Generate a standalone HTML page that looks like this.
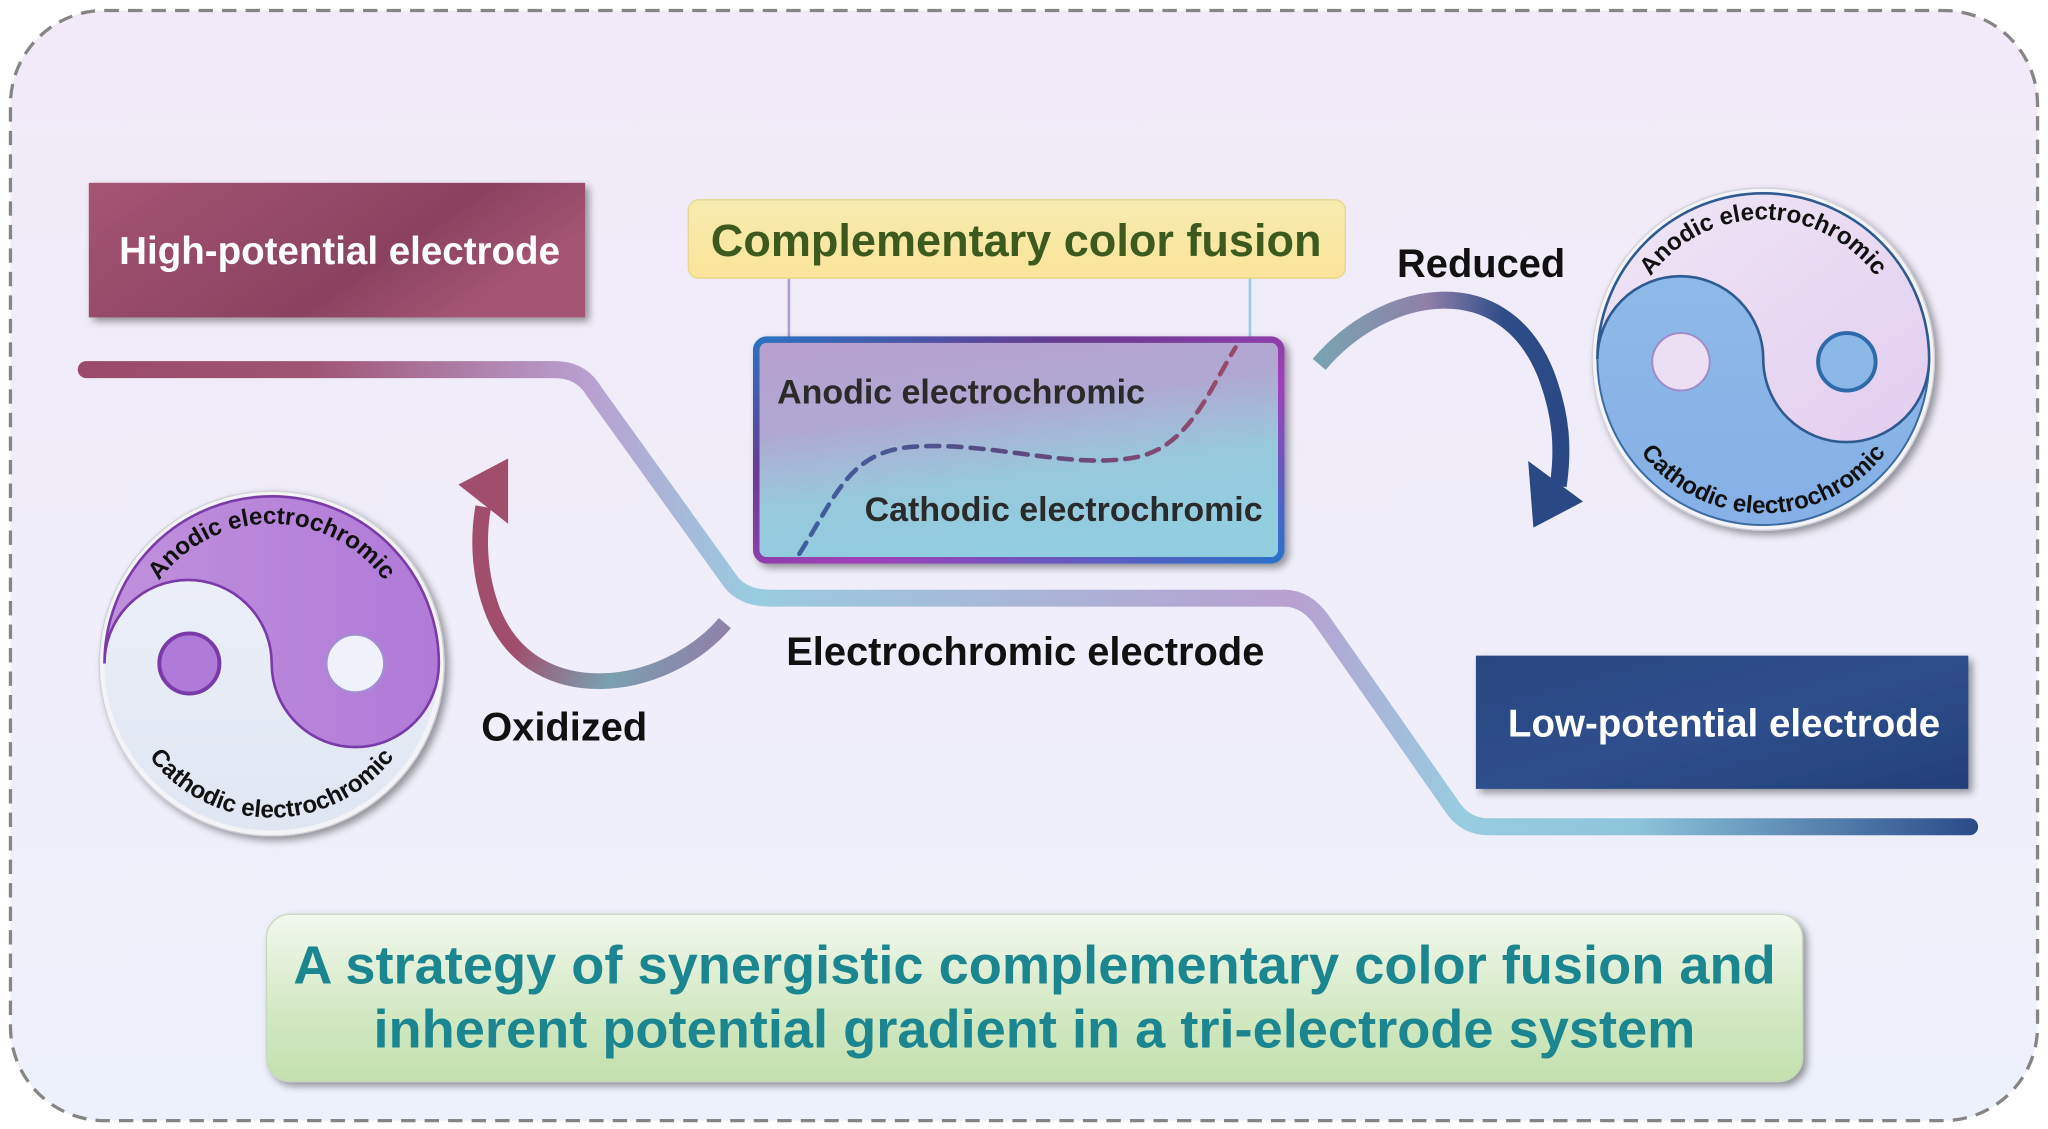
<!DOCTYPE html>
<html><head><meta charset="utf-8"><style>
html,body{margin:0;padding:0;background:#fff;}
svg{display:block;}
text{font-family:"Liberation Sans",Arial,sans-serif;font-weight:bold;}
</style></head><body>
<svg width="2048" height="1129" viewBox="0 0 1568 864.4" preserveAspectRatio="none" xmlns="http://www.w3.org/2000/svg">
<defs>
<linearGradient id="bg" x1="0" y1="0" x2="0" y2="1"><stop offset="0" stop-color="#f2eaf8"/><stop offset="1" stop-color="#edf1fb"/></linearGradient>
<linearGradient id="hp" x1="0" y1="0" x2="1" y2="0.4"><stop offset="0" stop-color="#a55573"/><stop offset="0.7" stop-color="#8a4260"/><stop offset="1" stop-color="#a55573"/></linearGradient>
<linearGradient id="lp" x1="0" y1="0" x2="1" y2="1"><stop offset="0" stop-color="#284680"/><stop offset="0.5" stop-color="#2f4f8c"/><stop offset="1" stop-color="#233f78"/></linearGradient>
<linearGradient id="w1" x1="60" y1="0" x2="580" y2="0" gradientUnits="userSpaceOnUse"><stop offset="0" stop-color="#9a4a6a"/><stop offset="0.35" stop-color="#a05575"/><stop offset="0.75" stop-color="#b9a0d0"/><stop offset="1" stop-color="#98cde0"/></linearGradient>
<linearGradient id="w2" x1="560" y1="0" x2="990" y2="0" gradientUnits="userSpaceOnUse"><stop offset="0" stop-color="#98cde0"/><stop offset="1" stop-color="#b8a0d0"/></linearGradient>
<linearGradient id="w3" x1="990" y1="0" x2="1515" y2="0" gradientUnits="userSpaceOnUse"><stop offset="0" stop-color="#b8a0d0"/><stop offset="0.25" stop-color="#98cde0"/><stop offset="0.5" stop-color="#8cc4da"/><stop offset="1" stop-color="#2a4a88"/></linearGradient>
<linearGradient id="yel" x1="0" y1="0" x2="0" y2="1"><stop offset="0" stop-color="#f6ebb0"/><stop offset="1" stop-color="#fbe49a"/></linearGradient>
<linearGradient id="cb" x1="0" y1="0" x2="0.3" y2="1"><stop offset="0" stop-color="#b9a0d0"/><stop offset="0.4" stop-color="#b0a8d2"/><stop offset="0.7" stop-color="#98c8dc"/><stop offset="1" stop-color="#92cde0"/></linearGradient>
<linearGradient id="cbb" x1="0" y1="0" x2="1" y2="1"><stop offset="0" stop-color="#2a72c0"/><stop offset="0.3" stop-color="#6a3a90"/><stop offset="0.6" stop-color="#a040b8"/><stop offset="1" stop-color="#2a72c8"/></linearGradient>
<linearGradient id="dash" x1="610" y1="0" x2="950" y2="0" gradientUnits="userSpaceOnUse"><stop offset="0" stop-color="#3e5ea0"/><stop offset="0.5" stop-color="#5a4a80"/><stop offset="1" stop-color="#9a4a6a"/></linearGradient>
<linearGradient id="grn" x1="0" y1="0" x2="0" y2="1"><stop offset="0" stop-color="#f2f8ee"/><stop offset="0.6" stop-color="#d2e8c2"/><stop offset="1" stop-color="#c4e0ae"/></linearGradient>
<linearGradient id="la" x1="370" y1="380" x2="560" y2="480" gradientUnits="userSpaceOnUse"><stop offset="0" stop-color="#a04e6c"/><stop offset="0.35" stop-color="#a04e6c"/><stop offset="0.7" stop-color="#7aa0b0"/><stop offset="1" stop-color="#9080a8"/></linearGradient>
<linearGradient id="ra" x1="1005" y1="0" x2="1200" y2="0" gradientUnits="userSpaceOnUse"><stop offset="0" stop-color="#78a4b0"/><stop offset="0.45" stop-color="#9080a8"/><stop offset="0.75" stop-color="#2e4c88"/><stop offset="1" stop-color="#294884"/></linearGradient>
<linearGradient id="purp" x1="0" y1="0" x2="1" y2="0"><stop offset="0" stop-color="#c090dc"/><stop offset="1" stop-color="#b07ad8"/></linearGradient>
<linearGradient id="wht" x1="0" y1="0" x2="0" y2="1"><stop offset="0" stop-color="#f0f2fb"/><stop offset="1" stop-color="#dfe6f2"/></linearGradient>
<linearGradient id="lav" x1="0" y1="0" x2="1" y2="1"><stop offset="0" stop-color="#f0e6f6"/><stop offset="1" stop-color="#e2cdef"/></linearGradient>
<linearGradient id="blu" x1="0" y1="0" x2="0" y2="1"><stop offset="0" stop-color="#90bce8"/><stop offset="1" stop-color="#86b0e6"/></linearGradient>
<filter id="sh" x="-10%" y="-10%" width="130%" height="130%"><feGaussianBlur in="SourceAlpha" stdDeviation="3"/><feOffset dx="3" dy="3"/><feComponentTransfer><feFuncA type="linear" slope="0.4"/></feComponentTransfer><feMerge><feMergeNode/><feMergeNode in="SourceGraphic"/></feMerge></filter>
<path id="lt" d="M 101 508 A 107 107 0 0 1 315 508"/>
<path id="lb" d="M 90 508 A 118 118 0 0 0 326 508"/>
<path id="rt" d="M 1243 275 A 107 107 0 0 1 1457 275"/>
<path id="rb" d="M 1232 275 A 118 118 0 0 0 1468 275"/>
</defs>
<rect x="0" y="0" width="1568" height="865" fill="#ffffff"/>
<rect x="8" y="8" width="1552" height="850" rx="72" fill="url(#bg)" stroke="#858585" stroke-width="2.5" stroke-dasharray="11 7"/>

<path d="M 66 283 L 425 283 Q 445 283 455 300 L 560 446 Q 570 458 590 458" fill="none" stroke="url(#w1)" stroke-width="13" stroke-linecap="round"/>
<path d="M 588 458 L 985 458" fill="none" stroke="url(#w2)" stroke-width="13"/>
<path d="M 983 458 Q 1000 458 1012 475 L 1112 618 Q 1122 633 1140 633 L 1508 633" fill="none" stroke="url(#w3)" stroke-width="13" stroke-linecap="round"/>

<rect x="68" y="140" width="380" height="103" fill="url(#hp)" filter="url(#sh)"/>
<text x="260" y="202" font-size="29.5" fill="#fff" text-anchor="middle">High-potential electrode</text>

<rect x="1130" y="502" width="377" height="102" fill="url(#lp)" filter="url(#sh)"/>
<text x="1320" y="564" font-size="29.5" fill="#fff" text-anchor="middle">Low-potential electrode</text>

<line x1="604" y1="212" x2="604" y2="262" stroke="#b49ccc" stroke-width="2"/>
<line x1="957" y1="212" x2="957" y2="262" stroke="#98cde0" stroke-width="2"/>
<rect x="527" y="153" width="503" height="60" rx="8" fill="url(#yel)" stroke="#e6d690" stroke-width="1"/>
<text x="778" y="196" font-size="34.5" fill="#3d5a1e" text-anchor="middle">Complementary color fusion</text>

<rect x="579" y="260" width="402" height="169" rx="8" fill="url(#cb)" stroke="url(#cbb)" stroke-width="5" filter="url(#sh)"/>
<path d="M 612 424 C 640 380, 650 345, 700 342 C 760 338, 820 360, 870 350 C 910 342, 925 300, 946 266" fill="none" stroke="url(#dash)" stroke-width="3.5" stroke-dasharray="10 7" stroke-linecap="round"/>
<text x="595" y="309" font-size="26" fill="#2a2a2a">Anodic electrochromic</text>
<text x="662" y="399" font-size="26" fill="#2a2a2a">Cathodic electrochromic</text>

<text x="785" y="509" font-size="30.5" fill="#111" text-anchor="middle">Electrochromic electrode</text>
<text x="432" y="567" font-size="30.5" fill="#111" text-anchor="middle">Oxidized</text>
<text x="1134" y="212" font-size="30.5" fill="#111" text-anchor="middle">Reduced</text>

<path d="M 555 477 C 510 530, 410 545, 378 470 C 366 440, 366 410, 370 388" fill="none" stroke="url(#la)" stroke-width="12"/>
<polygon points="389,351 351,371 389,401" fill="#a04e6c"/>
<path d="M 1010 279 C 1060 220, 1150 205, 1183 285 C 1196 318, 1197 345, 1193 372" fill="none" stroke="url(#ra)" stroke-width="13"/>
<polygon points="1170,353 1212,384 1174,404" fill="#294884"/>

<g filter="url(#sh)">
<circle cx="208" cy="508" r="132" fill="#f4f4f8" stroke="#d0d0d8" stroke-width="1"/>
</g>
<circle cx="208" cy="508" r="128" fill="url(#wht)"/>
<path d="M 80 508 A 128 128 0 0 1 336 508 A 64 64 0 0 1 208 508 A 64 64 0 0 0 80 508 Z" fill="url(#purp)" stroke="#7a3aa8" stroke-width="2"/>
<circle cx="145" cy="508" r="23" fill="#b07ad8" stroke="#7a3aa8" stroke-width="3"/>
<circle cx="272" cy="508" r="22" fill="#f0f2fb" stroke="#a090d0" stroke-width="1.5"/>
<text font-size="18.5" fill="#111" text-anchor="middle"><textPath href="#lt" startOffset="50%">Anodic electrochromic</textPath></text>
<text font-size="18.5" fill="#111" text-anchor="middle"><textPath href="#lb" startOffset="50%">Cathodic electrochromic</textPath></text>

<g filter="url(#sh)">
<circle cx="1350" cy="275" r="131" fill="#f4f4f8" stroke="#d0d0d8" stroke-width="1"/>
</g>
<circle cx="1350" cy="275" r="127" fill="url(#blu)" stroke="#3a6aa0" stroke-width="1.5"/>
<path d="M 1223 275 A 127 127 0 0 1 1477 275 A 63.5 63.5 0 0 1 1350 275 A 63.5 63.5 0 0 0 1223 275 Z" fill="url(#lav)" stroke="#2e5a90" stroke-width="2"/>
<circle cx="1287" cy="277" r="22" fill="#ecdff4" stroke="#a08ac8" stroke-width="1.5"/>
<circle cx="1414" cy="277" r="22" fill="#8cb8e8" stroke="#2e6aaa" stroke-width="3"/>
<text font-size="18.5" fill="#111" text-anchor="middle"><textPath href="#rt" startOffset="50%">Anodic electrochromic</textPath></text>
<text font-size="18.5" fill="#111" text-anchor="middle"><textPath href="#rb" startOffset="50%">Cathodic electrochromic</textPath></text>

<rect x="204" y="700" width="1176" height="128" rx="18" fill="url(#grn)" stroke="#c8d8c0" stroke-width="1" filter="url(#sh)"/>
<text x="792" y="753" font-size="41.5" fill="#1b8590" text-anchor="middle">A strategy of synergistic complementary color fusion and</text>
<text x="792" y="802" font-size="41.5" fill="#1b8590" text-anchor="middle">inherent potential gradient in a tri-electrode system</text>
</svg>
</body></html>
